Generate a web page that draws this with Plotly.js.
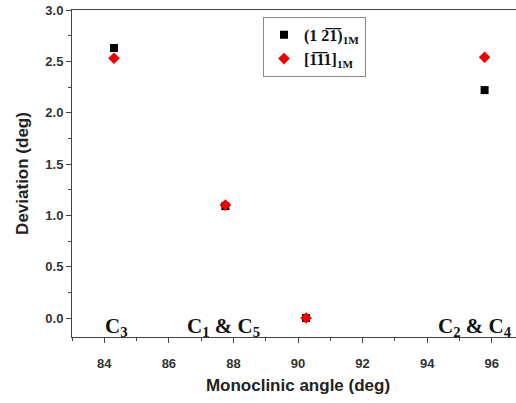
<!DOCTYPE html>
<html><head><meta charset="utf-8">
<script src="https://cdn.plot.ly/plotly-3.0.1.min.js"></script>
<style>html,body{margin:0;padding:0;overflow:hidden;background:#fff;width:516px;height:403px;}</style>
</head><body><div id="chart"></div>
<script>
const angleX = [84.3, 87.75, 90.25, 95.78];
const devPlane = [2.63, 1.09, 0.0, 2.22];
const devDir = [2.53, 1.10, 0.0, 2.54];
const seriesNames = ["(1 2\u03051\u0305)<sub>1M</sub>", "[1\u03051\u03051]<sub>1M</sub>"];
const labelText = ["C<sub>3</sub>", "C<sub>1</sub> & C<sub>5</sub>", "C<sub>2</sub> & C<sub>4</sub>"];
const labelX = [84.37, 87.7, 97.0];
const labelAnchor = ["center", "center", "right"];

const traces = [
  {x: angleX, y: devPlane, mode: "markers", type: "scatter", name: seriesNames[0],
   marker: {symbol: "square", size: 8, color: "#000"}},
  {x: angleX, y: devDir, mode: "markers", type: "scatter", name: seriesNames[1],
   marker: {symbol: "diamond", size: 9, color: "#ee0000"}}
];
const annotations = labelText.map((t, i) => ({
  x: labelX[i], y: -0.085, xref: "x", yref: "y", text: t, showarrow: false, xanchor: labelAnchor[i],
  xshift: labelAnchor[i] === "right" ? -10 : 0,
  font: {family: "Liberation Serif", size: 21, color: "#111", weight: "bold"}
}));
const layout = {
  width: 540, height: 403,
  margin: {l: 72, r: 16, t: 10, b: 66},
  paper_bgcolor: "#fff", plot_bgcolor: "#fff",
  showlegend: true,
  legend: {x: 0.4226, y: 0.979, xanchor: "left", yanchor: "top",
    bordercolor: "#888", borderwidth: 1, bgcolor: "#fff",
    font: {family: "Liberation Serif", size: 16, color: "#111", weight: "bold"}},
  xaxis: {range: [83, 97], tickvals: [84, 86, 88, 90, 92, 94, 96], ticks: "outside", ticklen: 5,
    ticklabelstandoff: 9,
    tickcolor: "#444", linecolor: "#444", linewidth: 1, showline: true, mirror: true, showgrid: false, zeroline: false,
    minor: {dtick: 1, tick0: 83, ticks: "outside", ticklen: 3, tickcolor: "#444"},
    tickfont: {family: "Liberation Sans", size: 13, color: "#333", weight: "bold"},
    title: {text: "Monoclinic angle (deg)", standoff: 9,
      font: {family: "Liberation Sans", size: 17, color: "#222", weight: "bold"}}},
  yaxis: {range: [-0.185, 3.0], tickvals: [0, 0.5, 1.0, 1.5, 2.0, 2.5, 3.0], tickformat: ".1f", ticks: "outside", ticklen: 5,
    tickcolor: "#444", linecolor: "#444", linewidth: 1, showline: true, mirror: true, showgrid: false, zeroline: false,
    minor: {dtick: 0.25, tick0: 0, ticks: "outside", ticklen: 3, tickcolor: "#444"},
    tickfont: {family: "Liberation Sans", size: 13, color: "#333", weight: "bold"},
    title: {text: "Deviation (deg)", standoff: 12,
      font: {family: "Liberation Sans", size: 17, color: "#222", weight: "bold"}}},
  annotations: annotations
};
Plotly.newPlot("chart", traces, layout, {displayModeBar: false, staticPlot: true});
</script></body></html>
